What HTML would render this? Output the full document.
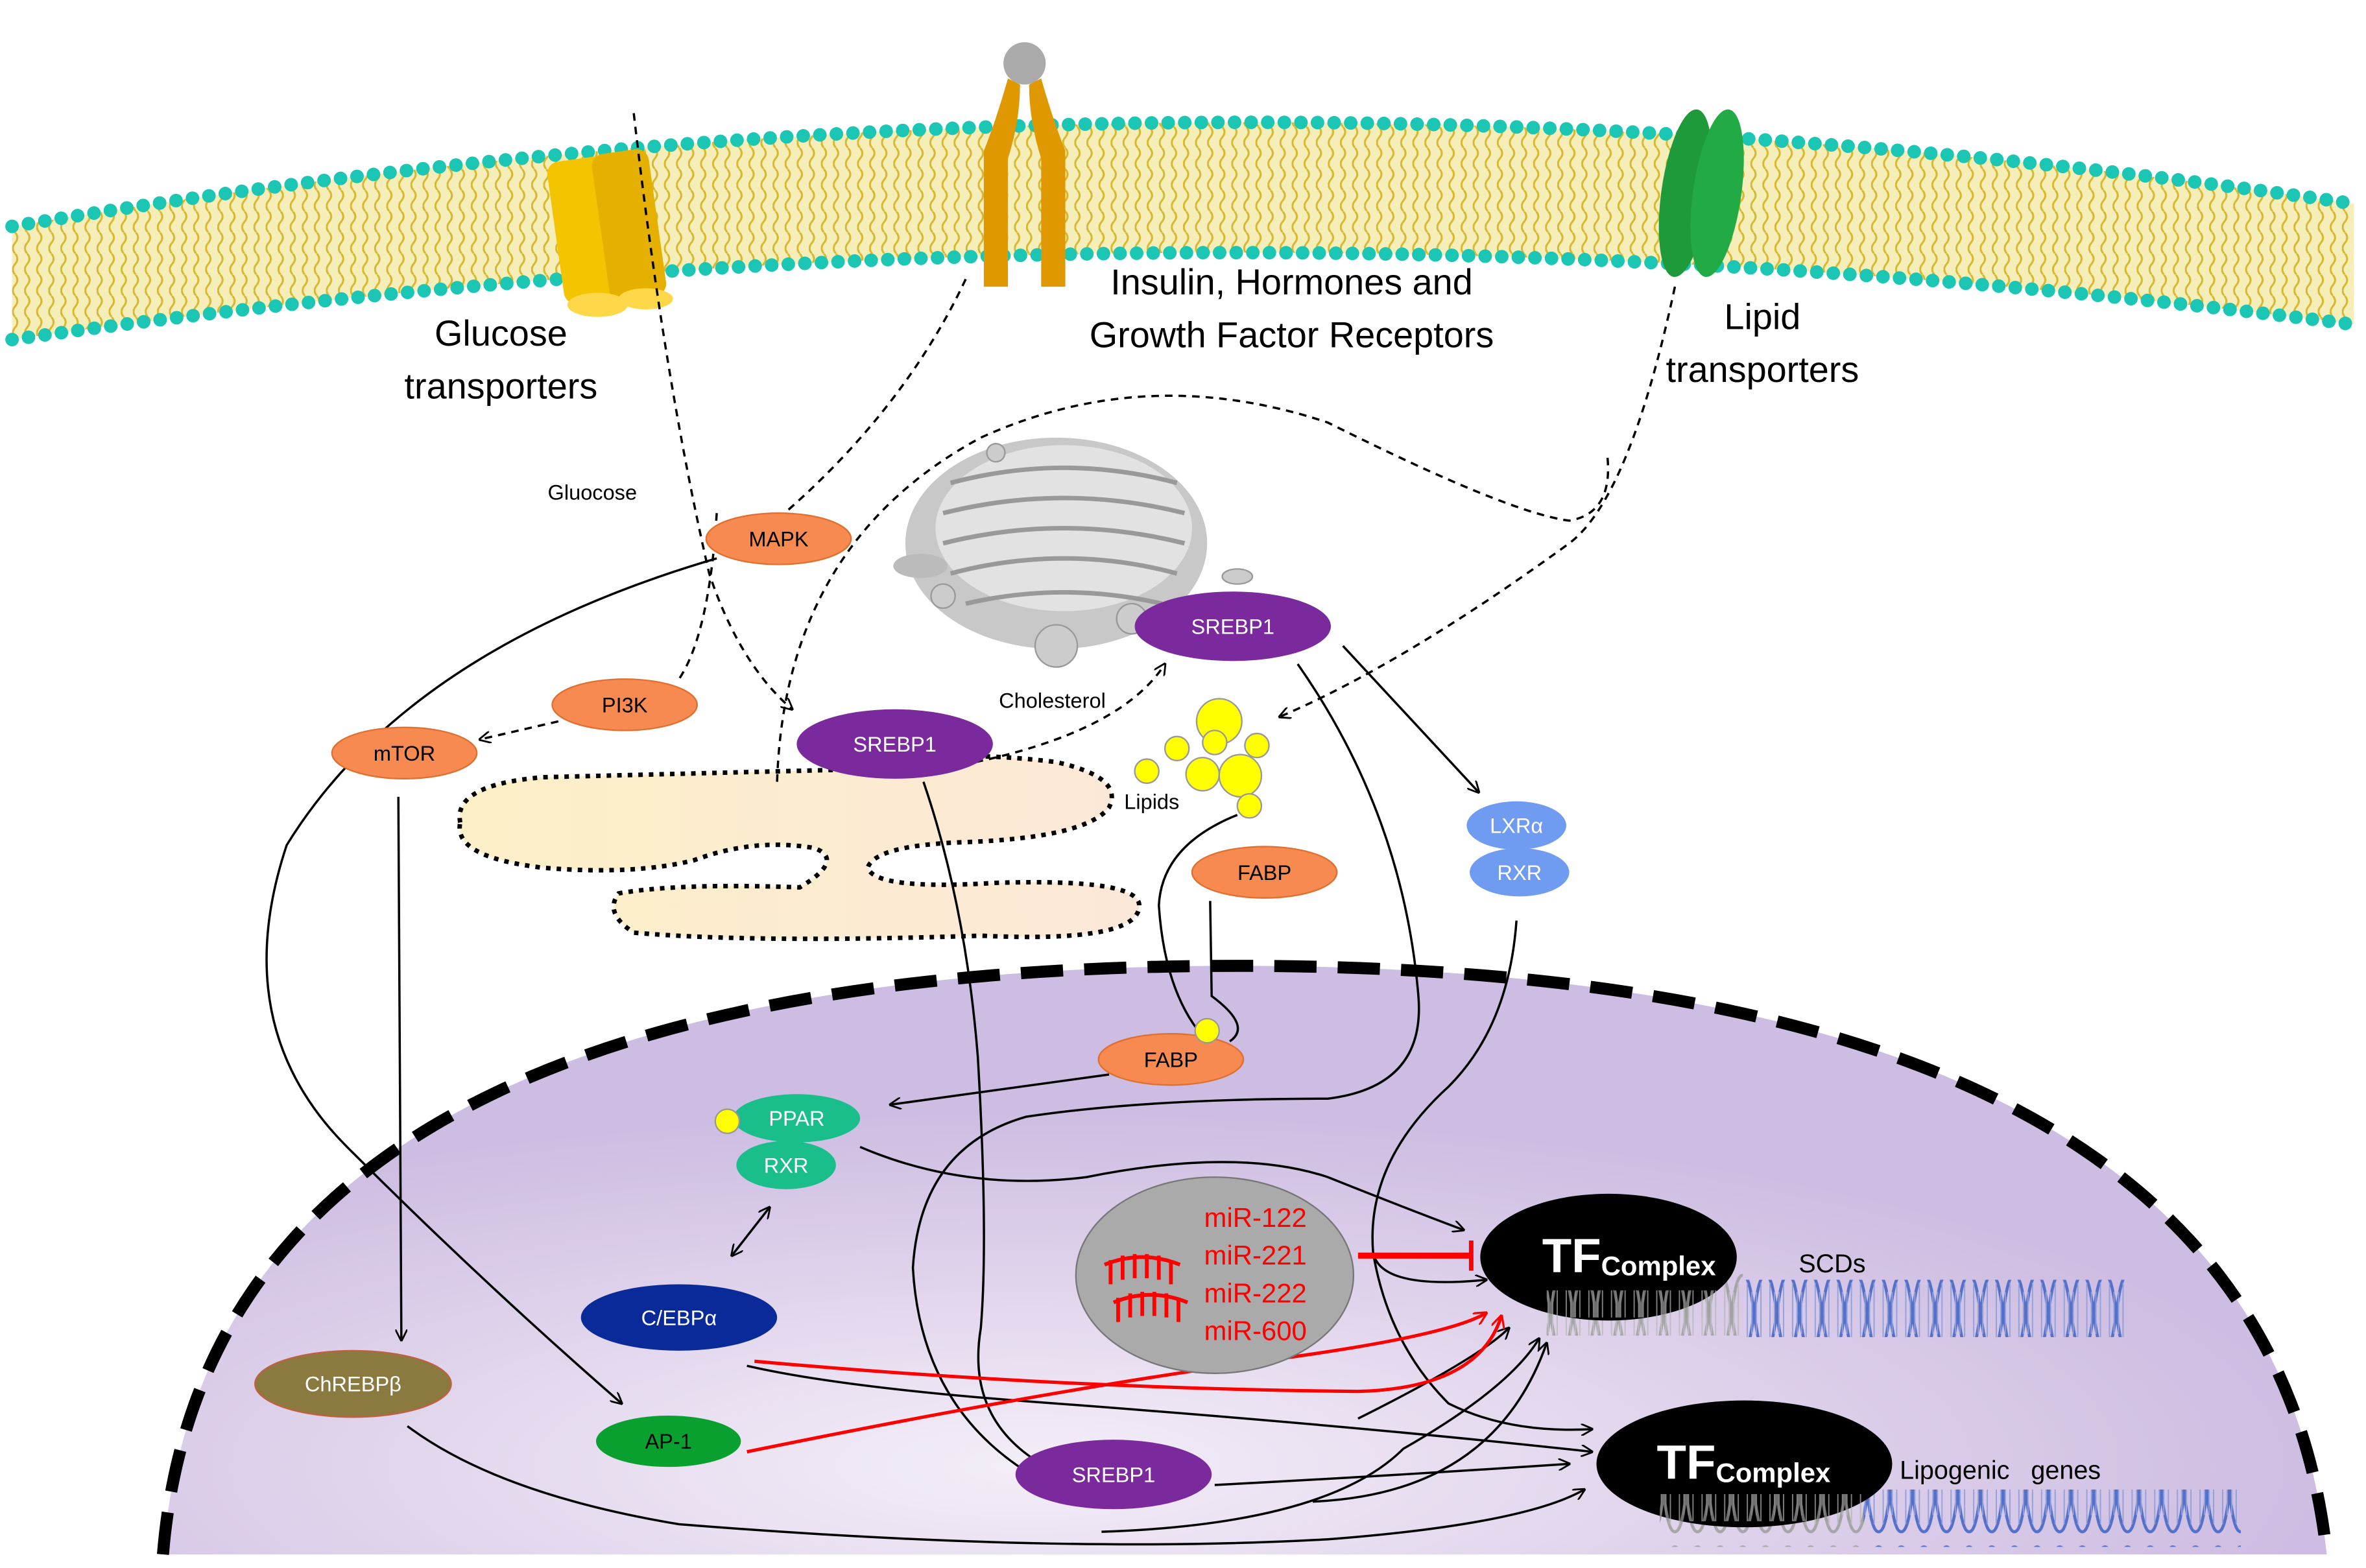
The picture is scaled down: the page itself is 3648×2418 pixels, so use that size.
<!DOCTYPE html>
<html><head><meta charset="utf-8"><style>
html,body{margin:0;padding:0;background:#fff;}
svg{display:block;}
text{font-family:"Liberation Sans",sans-serif;}
</style></head><body>
<svg width="3648" height="2418" viewBox="0 0 1568 1039" preserveAspectRatio="none" xmlns="http://www.w3.org/2000/svg">
<defs>
<radialGradient id="nuc" cx="0.4" cy="0.85" r="0.6">
<stop offset="0" stop-color="#f4eef8"/><stop offset="0.6" stop-color="#ddd0ea"/><stop offset="1" stop-color="#cdbde2"/>
</radialGradient>
<linearGradient id="drop" x1="0" y1="0" x2="1" y2="0">
<stop offset="0" stop-color="#fdf0c8"/><stop offset="1" stop-color="#fce8d8"/>
</linearGradient>
<pattern id="lip" width="8" height="14" patternUnits="userSpaceOnUse">
<rect width="8" height="14" fill="#f6eeb8"/>
<path d="M2,0 Q5,3.5 2,7 Q-1,10.5 2,14" stroke="#d8b830" stroke-width="1.3" fill="none"/>
</pattern>
<pattern id="dnaB" width="30" height="60" patternUnits="userSpaceOnUse">
<path d="M0,5 C8,5 7,55 15,55 C23,55 22,5 30,5" stroke="#5570c8" stroke-width="2" fill="none"/>
<path d="M0,55 C8,55 7,5 15,5 C23,5 22,55 30,55" stroke="#5570c8" stroke-width="2" fill="none"/>
<g stroke="#8fa0dc" stroke-width="0.8"><path d="M3,10V50M6,16V44M9,16V44M12,10V50M18,10V50M21,16V44M24,16V44M27,10V50"/></g>
</pattern>
<pattern id="dnaG" width="30" height="60" patternUnits="userSpaceOnUse">
<path d="M0,5 C8,5 7,55 15,55 C23,55 22,5 30,5" stroke="#a0a0a0" stroke-width="2" fill="none"/>
<path d="M0,55 C8,55 7,5 15,5 C23,5 22,55 30,55" stroke="#a0a0a0" stroke-width="2" fill="none"/>
<g stroke="#bbb" stroke-width="0.8"><path d="M3,10V50M6,16V44M9,16V44M12,10V50M18,10V50M21,16V44M24,16V44M27,10V50"/></g>
</pattern>
<marker id="ah" viewBox="0 0 10 10" refX="9" refY="5" markerWidth="8" markerHeight="8" orient="auto-start-reverse" markerUnits="userSpaceOnUse"><path d="M0,0L10,5L0,10" fill="none" stroke="#000" stroke-width="1.5"/></marker>
<marker id="ahr" viewBox="0 0 10 10" refX="9" refY="5" markerWidth="9" markerHeight="9" orient="auto" markerUnits="userSpaceOnUse"><path d="M0,0L10,5L0,10" fill="none" stroke="#f00" stroke-width="1.5"/></marker>
</defs>

<path d="M8,150 Q780,20 1560,135 L1560,215 Q780,115 8,225 Z" fill="url(#lip)"/>
<path d="M8,150 Q780,20 1560,135" fill="none" stroke="#1bc6b4" stroke-width="9" stroke-linecap="round" stroke-dasharray="0 11"/>
<path d="M8,225 Q780,115 1560,215" fill="none" stroke="#1bc6b4" stroke-width="9" stroke-linecap="round" stroke-dasharray="0 11"/>

<g>
<rect x="368" y="105" width="40" height="95" rx="8" fill="#f5c400" transform="rotate(-8 388 152)"/>
<rect x="398" y="100" width="38" height="98" rx="8" fill="#e6b000" transform="rotate(-8 417 150)"/>
<ellipse cx="396" cy="202" rx="20" ry="8" fill="#ffd84a"/>
<ellipse cx="428" cy="198" rx="18" ry="7" fill="#ffd84a"/>
</g>
<circle cx="679" cy="42" r="14" fill="#aaa"/>
<path d="M668,52 Q660,80 652,100 L652,190 L668,190 L668,105 Q676,80 676,56 Z" fill="#e09800"/>
<path d="M690,52 Q698,80 706,100 L706,190 L690,190 L690,105 Q682,80 682,56 Z" fill="#e09800"/>
<ellipse cx="1117" cy="128" rx="16" ry="56" fill="#1e9a3a" transform="rotate(8 1117 128)"/>
<ellipse cx="1138" cy="128" rx="16" ry="56" fill="#22aa44" transform="rotate(8 1138 128)"/>

<text x="332" y="229" font-size="24" text-anchor="middle">Glucose</text>
<text x="332" y="264" font-size="24" text-anchor="middle">transporters</text>
<text x="856" y="195" font-size="24" text-anchor="middle">Insulin, Hormones and</text>
<text x="856" y="230" font-size="24" text-anchor="middle">Growth Factor Receptors</text>
<text x="1168" y="218" font-size="24" text-anchor="middle">Lipid</text>
<text x="1168" y="253" font-size="24" text-anchor="middle">transporters</text>

<path d="M305,545 Q300,520 360,515 L560,510 Q620,495 700,505 Q745,515 735,535 Q720,555 640,558 Q580,560 575,575 Q580,590 660,585 Q755,582 755,600 Q755,625 650,620 Q500,625 420,618 Q400,605 410,592 Q450,585 530,588 Q560,570 540,562 Q500,555 460,570 Q420,580 360,575 Q300,568 305,545 Z" fill="url(#drop)" stroke="#000" stroke-width="3" stroke-dasharray="3 4"/>

<path d="M108,1030 Q140,640 820,640 Q1500,640 1542,1030 Z" fill="url(#nuc)"/>
<path d="M108,1030 Q140,640 820,640 Q1500,640 1542,1030" fill="none" stroke="#000" stroke-width="8" stroke-dasharray="28 14"/>

<g>
<ellipse cx="700" cy="360" rx="100" ry="70" fill="#c8c8c8"/>
<ellipse cx="705" cy="350" rx="85" ry="55" fill="#e2e2e2"/>
<g stroke="#999" stroke-width="3" fill="none">
<path d="M630,320 Q705,300 780,320"/><path d="M625,340 Q705,320 785,340"/><path d="M625,360 Q705,340 785,360"/><path d="M630,380 Q705,360 780,380"/><path d="M640,400 Q705,385 770,400"/>
</g>
<ellipse cx="610" cy="375" rx="18" ry="8" fill="#bbb"/>
<circle cx="700" cy="428" r="14" fill="#ccc" stroke="#999"/>
<circle cx="625" cy="395" r="8" fill="#ccc" stroke="#999"/>
<circle cx="750" cy="410" r="10" fill="#ccc" stroke="#999"/>
<ellipse cx="820" cy="382" rx="10" ry="5" fill="#ccc" stroke="#999"/>
<circle cx="660" cy="300" r="6" fill="#ccc" stroke="#999"/>
</g>

<g fill="none" stroke="#000" stroke-width="1.5" stroke-dasharray="5 4">
<path d="M420,75 Q440,250 470,380 Q490,440 525,470" marker-end="url(#ah)"/>
<path d="M640,185 Q600,270 520,340"/>
<path d="M475,340 Q470,420 450,450"/>
<path d="M370,478 L318,490" marker-end="url(#ah)"/>
<path d="M515,518 Q520,360 650,290 Q760,240 880,280 Q1000,340 1040,345 Q1070,340 1065,300"/>
<path d="M1110,190 Q1080,330 1040,360 Q930,440 848,475" marker-end="url(#ah)"/>
<path d="M620,510 Q740,490 772,440" marker-end="url(#ah)"/>
</g>

<g fill="#ffff00" stroke="#999" stroke-width="1">
<circle cx="808" cy="478" r="15"/><circle cx="780" cy="496" r="8"/><circle cx="805" cy="492" r="8"/><circle cx="833" cy="494" r="8"/>
<circle cx="760" cy="511" r="8"/><circle cx="797" cy="513" r="11"/><circle cx="822" cy="514" r="14"/><circle cx="828" cy="534" r="8"/>
</g>

<g fill="none" stroke="#000" stroke-width="1.5">
<path d="M475,370 Q270,430 190,560 Q150,680 230,760 Q320,850 412,930" marker-end="url(#ah)"/>
<path d="M264,528 L266,888" marker-end="url(#ah)"/>
<path d="M890,428 L980,525" marker-end="url(#ah)"/>
<path d="M860,440 Q930,540 940,660 Q945,720 880,728 Q760,728 680,740 Q610,760 605,840 Q610,930 680,975"/>
<path d="M612,518 Q640,600 648,700 Q655,820 650,880 Q640,940 690,970"/>
<path d="M735,712 L590,732" marker-end="url(#ah)"/>
<path d="M802,597 L803,660 Q830,680 815,690"/>
<path d="M820,540 Q770,560 768,600 Q772,660 800,690"/>
<path d="M570,760 Q640,790 720,780 Q820,760 880,780 Q930,800 970,815" marker-end="url(#ah)"/>
<path d="M1005,610 Q1000,680 960,720 Q905,770 910,830 Q915,855 985,848" marker-end="url(#ah)"/>
<path d="M910,830 Q920,890 960,930 Q1000,950 1055,947" marker-end="url(#ah)"/>
<path d="M495,905 Q560,920 700,930 Q900,945 1055,962" marker-end="url(#ah)"/>
<path d="M900,940 Q980,900 1000,880" marker-end="url(#ah)"/>
<path d="M805,984 Q920,978 1040,970" marker-end="url(#ah)"/>
<path d="M270,945 Q330,990 450,1010 Q700,1030 880,1020 Q1010,1010 1050,987" marker-end="url(#ah)"/>
<path d="M730,1015 Q880,1010 930,960 Q1000,920 1020,887" marker-end="url(#ah)"/>
<path d="M870,995 Q990,990 1025,890" marker-end="url(#ah)"/>
<path d="M485,832 L510,800" marker-end="url(#ah)" marker-start="url(#ah)"/>
</g>

<g fill="none" stroke="#f00" stroke-width="2.2">
<path d="M500,902 Q700,920 900,922 Q980,920 995,872" marker-end="url(#ahr)"/>
<path d="M495,962 Q700,920 850,900 Q960,885 985,870" marker-end="url(#ahr)"/>
<path d="M900,832 L975,832" stroke-width="4"/>
<path d="M975,822 L975,842" stroke-width="3"/>
</g>

<rect x="1025" y="843" width="130" height="42" fill="url(#dnaG)" opacity="0.9"/>
<rect x="1155" y="848" width="255" height="38" fill="url(#dnaB)"/>
<rect x="1100" y="983" width="135" height="42" fill="url(#dnaG)" opacity="0.9"/>
<rect x="1235" y="987" width="250" height="38" fill="url(#dnaB)"/>

<ellipse cx="1066" cy="833" rx="85" ry="42" fill="#000"/>
<text x="1022" y="843" font-size="32" font-weight="bold" fill="#fff">TF<tspan font-size="18" dy="2">Complex</tspan></text>
<rect x="1025" y="855" width="130" height="18" fill="url(#dnaG)" opacity="0.7"/>
<ellipse cx="1156" cy="970" rx="98" ry="42" fill="#000"/>
<text x="1098" y="980" font-size="32" font-weight="bold" fill="#fff">TF<tspan font-size="18" dy="2">Complex</tspan></text>
<rect x="1100" y="990" width="135" height="18" fill="url(#dnaG)" opacity="0.7"/>
<text x="1192" y="843" font-size="17">SCDs</text>
<text x="1259" y="980" font-size="17" xml:space="preserve">Lipogenic   genes</text>

<ellipse cx="805" cy="845" rx="92" ry="65" fill="#aaa" stroke="#777"/>
<g fill="none" stroke="#f00" stroke-width="2.5">
<path d="M732,838 Q757,828 782,838"/><path d="M736,835v16M744,832v16M752,831v16M760,831v16M768,832v16M776,835v16"/>
<path d="M738,863 Q762,853 787,863"/><path d="M741,860v16M749,857v16M757,856v16M765,856v16M773,857v16M781,860v16"/>
</g>
<g font-size="18" fill="#f00"><text x="798" y="813">miR-122</text><text x="798" y="838">miR-221</text><text x="798" y="863">miR-222</text><text x="798" y="888">miR-600</text></g>

<g font-size="14" text-anchor="middle">
<ellipse cx="516" cy="357" rx="48" ry="17" fill="#f78a50" stroke="#e07030"/><text x="516" y="362">MAPK</text>
<ellipse cx="414" cy="467" rx="48" ry="17" fill="#f78a50" stroke="#e07030"/><text x="414" y="472">PI3K</text>
<ellipse cx="268" cy="499" rx="48" ry="17" fill="#f78a50" stroke="#e07030"/><text x="268" y="504">mTOR</text>
<ellipse cx="838" cy="578" rx="48" ry="17" fill="#f78a50" stroke="#e07030"/><text x="838" y="583">FABP</text>
<ellipse cx="776" cy="702" rx="48" ry="17" fill="#f78a50" stroke="#e07030"/><text x="776" y="707">FABP</text>
<circle cx="800" cy="683" r="8" fill="#ff0" stroke="#999"/>
<ellipse cx="817" cy="415" rx="65" ry="23" fill="#7b2a9e"/><text x="817" y="420" fill="#fff">SREBP1</text>
<ellipse cx="593" cy="493" rx="65" ry="23" fill="#7b2a9e"/><text x="593" y="498" fill="#fff">SREBP1</text>
<ellipse cx="738" cy="977" rx="65" ry="23" fill="#7b2a9e"/><text x="738" y="982" fill="#fff">SREBP1</text>
<ellipse cx="1005" cy="547" rx="33" ry="16" fill="#6f9bf0"/><text x="1005" y="552" fill="#fff">LXRα</text>
<ellipse cx="1007" cy="578" rx="33" ry="16" fill="#6f9bf0"/><text x="1007" y="583" fill="#fff">RXR</text>
<ellipse cx="528" cy="741" rx="42" ry="16" fill="#1abe8a"/><text x="528" y="746" fill="#fff">PPAR</text>
<ellipse cx="521" cy="772" rx="33" ry="16" fill="#1abe8a"/><text x="521" y="777" fill="#fff">RXR</text>
<circle cx="482" cy="743" r="8" fill="#ff0" stroke="#999"/>
<ellipse cx="450" cy="873" rx="65" ry="22" fill="#0a2a9a"/><text x="450" y="878" fill="#fff">C/EBPα</text>
<ellipse cx="234" cy="917" rx="65" ry="22" fill="#8b7a40" stroke="#c06040"/><text x="234" y="922" fill="#fff">ChREBPβ</text>
<ellipse cx="443" cy="955" rx="48" ry="17" fill="#0aa030"/><text x="443" y="960">AP-1</text>
</g>
<g font-size="14">
<text x="363" y="331">Gluocose</text>
<text x="662" y="469">Cholesterol</text>
<text x="745" y="536">Lipids</text>
</g>
</svg>
</body></html>
